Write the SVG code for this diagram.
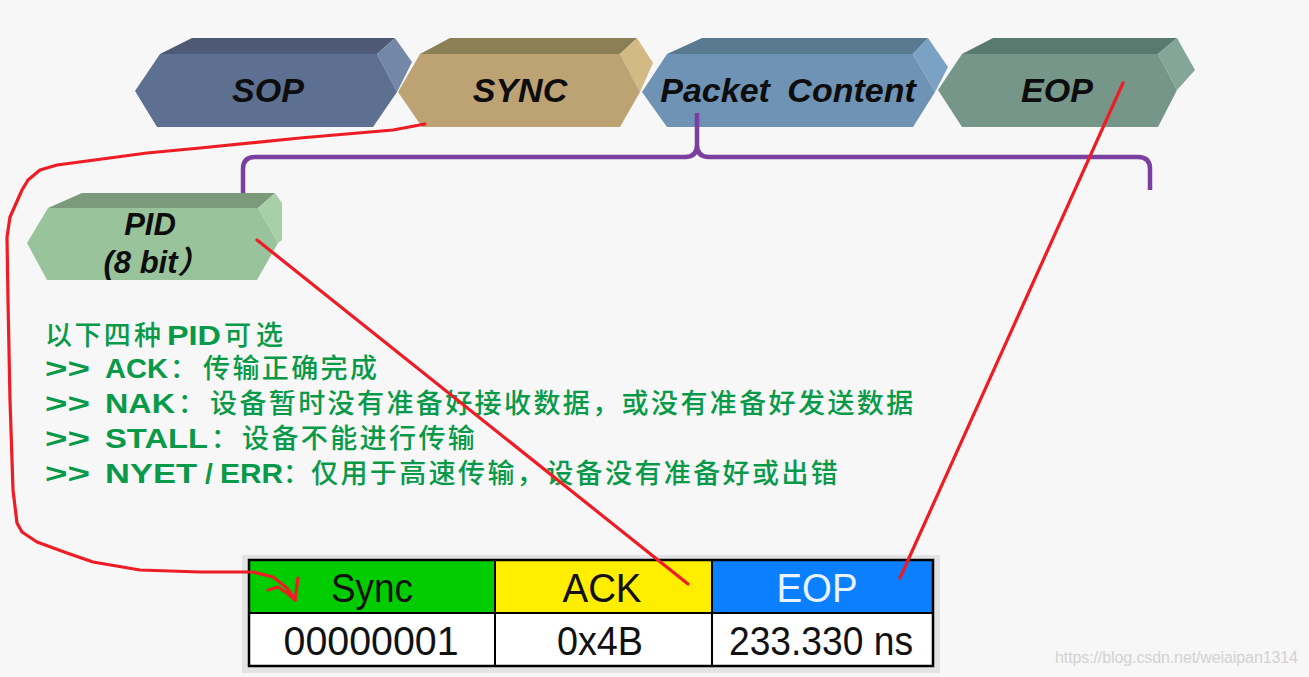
<svg xmlns="http://www.w3.org/2000/svg" width="1309" height="677" viewBox="0 0 1309 677">
<style>
.lbl{font-family:"Liberation Sans",Arial,sans-serif;font-weight:bold;font-style:italic;font-size:34px;fill:#0d0d0d;text-anchor:middle}
.pid{font-family:"Liberation Sans","Noto Sans CJK SC",sans-serif;font-weight:bold;font-style:italic;font-size:31px;fill:#0d0d0d;text-anchor:middle}
.g{font-family:"Liberation Sans","Noto Sans CJK SC",sans-serif;font-size:27px;fill:#089949}
.gb{font-weight:bold;font-size:28px}
.cj{font-family:"Noto Sans CJK SC",sans-serif;font-weight:500;letter-spacing:2.4px}
.co{font-family:"Noto Sans CJK SC",sans-serif;font-weight:500;letter-spacing:0}
.tb{font-family:"Liberation Sans",Arial,sans-serif;font-size:40px;fill:#111;text-anchor:middle}
.red{fill:none;stroke:#ee1c24;stroke-width:3.2;stroke-linejoin:round;stroke-linecap:round}
.cell{stroke:#000;stroke-width:2}
</style>
<rect width="1309" height="677" fill="#f7f7f7"/>

<g id="sop">
<polygon points="160,54 192,38 395,38 377,54" fill="#4e5a75"/>
<polygon points="377,54 395,38 412,62 397,92" fill="#7387a7"/>
<polygon points="135,91 160,54 377,54 397,92 373,127 157,127" fill="#5e7092"/>
<text class="lbl" x="268" y="102">SOP</text>
</g>
<g id="sync">
<polygon points="420,54 450,38 637,38 620,54" fill="#8a7f55"/>
<polygon points="620,54 637,38 653,63 640,92" fill="#d3b983"/>
<polygon points="398,92 420,54 620,54 640,92 620,127 422,127" fill="#bda374"/>
<text class="lbl" x="520" y="102">SYNC</text>
</g>
<g id="packet-content">
<polygon points="667,54 702,38 928,38 913,54" fill="#597a90"/>
<polygon points="913,54 928,38 948,67 935,92" fill="#7ba1c5"/>
<polygon points="642,92 667,54 913,54 935,92 913,127 667,127" fill="#6e93b4"/>
<text class="lbl" x="788" y="102" word-spacing="8">Packet Content</text>
</g>
<g id="eop">
<polygon points="962,54 993,38 1177,38 1158,54" fill="#587a6f"/>
<polygon points="1158,54 1177,38 1195,70 1177,90" fill="#84a699"/>
<polygon points="938,90 962,54 1158,54 1177,90 1158,127 962,127" fill="#76968a"/>
<text class="lbl" x="1057" y="102">EOP</text>
</g>

<g id="brace">
<path d="M243,195 V169 Q243,157 255,157 H685 Q697,157 697,145 V113 M697,145 Q697,157 709,157 H1138 Q1150,157 1150,169 V190" fill="none" stroke="#7b3fa0" stroke-width="4.5" stroke-linejoin="round"/>
</g>

<g id="pid">
<polygon points="48,208 82,193 275,193 258,208" fill="#7a9a7b"/>
<polygon points="258,208 275,193 282,203 282,240 278,243" fill="#a8d0a8"/>
<polygon points="27,243 48,208 258,208 278,243 257,280 47,280" fill="#99c39a"/>
<text class="pid" x="150" y="235">PID</text>
<text class="pid" x="156" y="273">(8 bit）</text>
</g>

<g id="pid-list">
<text class="g" y="345"><tspan class="cj" x="45">以下四</tspan><tspan class="co" x="134">种</tspan><tspan class="gb" x="167" textLength="54" lengthAdjust="spacingAndGlyphs">PID</tspan><tspan class="cj" x="224">可</tspan><tspan class="co" x="256">选</tspan></text>
<text class="g" y="378"><tspan class="gb" x="45" textLength="45" lengthAdjust="spacingAndGlyphs">&gt;&gt;</tspan><tspan class="gb" x="105" textLength="63" lengthAdjust="spacingAndGlyphs">ACK</tspan><tspan class="co" x="170">：</tspan><tspan class="cj" x="203">传输正确完成</tspan></text>
<text class="g" y="413"><tspan class="gb" x="45" textLength="45" lengthAdjust="spacingAndGlyphs">&gt;&gt;</tspan><tspan class="gb" x="105" textLength="70" lengthAdjust="spacingAndGlyphs">NAK</tspan><tspan class="co" x="178">：</tspan><tspan class="cj" x="210">设备暂时没有准备好接收数据，或没有准备好发送数据</tspan></text>
<text class="g" y="448"><tspan class="gb" x="45" textLength="45" lengthAdjust="spacingAndGlyphs">&gt;&gt;</tspan><tspan class="gb" x="105" textLength="103" lengthAdjust="spacingAndGlyphs">STALL</tspan><tspan class="co" x="211">：</tspan><tspan class="cj" x="242">设备不能进行传输</tspan></text>
<text class="g" y="483"><tspan class="gb" x="45" textLength="45" lengthAdjust="spacingAndGlyphs">&gt;&gt;</tspan><tspan class="gb" x="105" textLength="92" lengthAdjust="spacingAndGlyphs">NYET</tspan><tspan class="gb" x="205" font-size="30">/</tspan><tspan class="gb" x="220" textLength="63" lengthAdjust="spacingAndGlyphs">ERR</tspan><tspan class="co" x="283">：</tspan><tspan class="cj" x="311">仅用于高速传输，设备没有准备好或出错</tspan></text>
</g>

<g id="table">
<rect x="242" y="555" width="698" height="118" fill="#e3e3e3"/>
<rect x="249" y="560" width="246" height="53" fill="#00cc00"/>
<rect x="495" y="560" width="217" height="53" fill="#ffee00"/>
<rect x="712" y="560" width="221" height="53" fill="#0a80ff"/>
<rect x="249" y="613" width="684" height="53" fill="#ffffff"/>
<rect x="249" y="560" width="684" height="106" fill="none" stroke="#000" stroke-width="2.5"/>
<line class="cell" x1="249" y1="613" x2="933" y2="613"/>
<line class="cell" x1="495" y1="560" x2="495" y2="666"/>
<line class="cell" x1="712" y1="560" x2="712" y2="666"/>
<text class="tb" x="372" y="602" textLength="82" lengthAdjust="spacingAndGlyphs">Sync</text>
<text class="tb" x="602" y="602" textLength="79" lengthAdjust="spacingAndGlyphs">ACK</text>
<text class="tb" x="817" y="602" textLength="81" lengthAdjust="spacingAndGlyphs" style="fill:#eaf4ff">EOP</text>
<text class="tb" x="371" y="655" font-size="44" textLength="175" lengthAdjust="spacingAndGlyphs">00000001</text>
<text class="tb" x="600" y="655" font-size="44" textLength="86" lengthAdjust="spacingAndGlyphs">0x4B</text>
<text class="tb" x="821" y="655" font-size="44" textLength="184" lengthAdjust="spacingAndGlyphs">233.330 ns</text>
</g>

<g id="watermark">
<text x="1055" y="663" font-family="Liberation Sans,Arial,sans-serif" font-size="16" fill="#d2d2d2" textLength="243" lengthAdjust="spacing">https://blog.csdn.net/weiaipan1314</text>
</g>

<g id="connectors">
<polyline class="red" points="425,124 393,130 300,138 200,148 147,153 57,165 40,170 28,180 22,190 10,217 7,237 8,300 10,400 13,490 17,523 22,532 37,542 67,553 93,562 140,570 200,572 253,572 273,577 287,588 295,600"/>
<polyline class="red" points="298,578 295,600"/>
<polyline class="red" points="268,590 278,587 287,593 295,600"/>
<polyline class="red" points="257,240 688,584"/>
<polyline class="red" points="1123,83 900,578"/>
</g>
</svg>
